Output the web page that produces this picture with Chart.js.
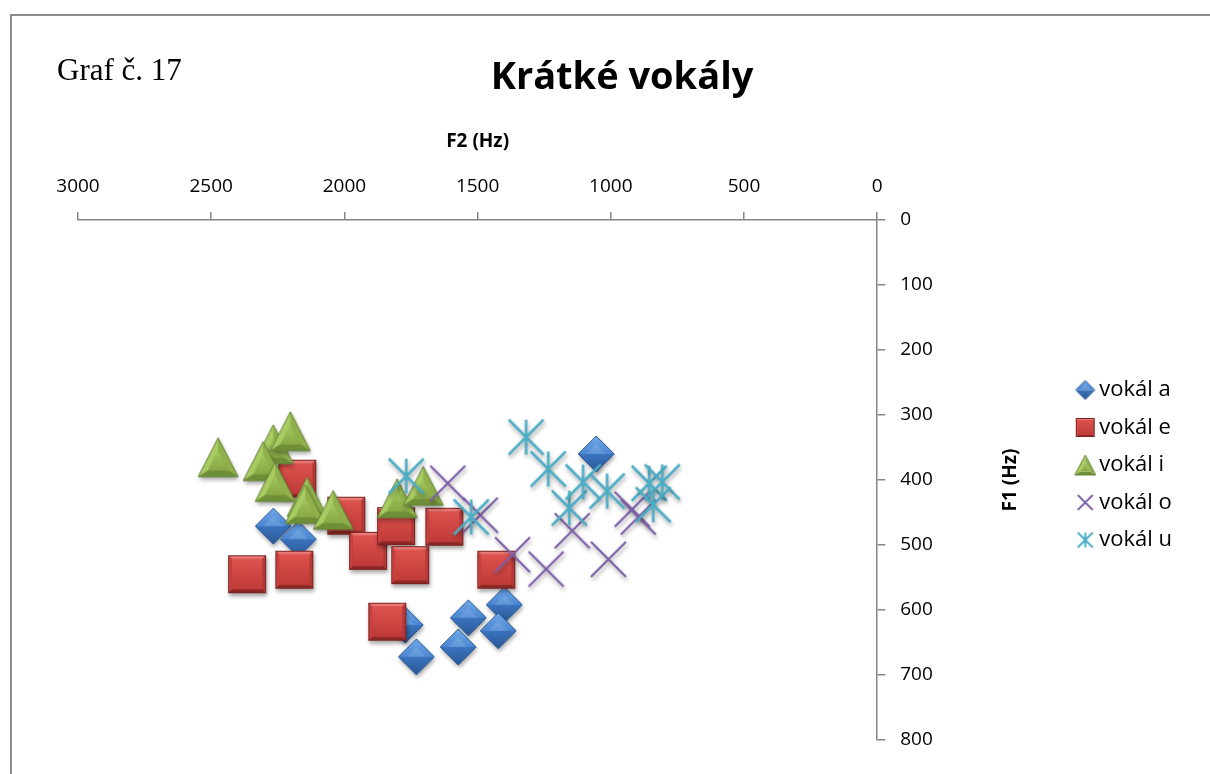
<!DOCTYPE html>
<html>
<head>
<meta charset="utf-8">
<script src="https://cdn.jsdelivr.net/npm/chart.js@4.4.1/dist/chart.umd.min.js"></script>
<style>
  body { margin: 0; background: #fff; }
  #wrap { position: relative; width: 1210px; height: 774px; overflow: hidden; }
  #frame { position: absolute; left: 10px; top: 14px; width: 1300px; height: 900px;
           border-left: 2px solid #8c8c8c; border-top: 2px solid #8c8c8c; }
  #graf { position: absolute; left: 57px; top: 52px; font: 31px "Liberation Serif"; color: #000; }
  #title { position: absolute; left: 0; width: 1244px; top: 48px; text-align: center;
           font: bold 38px "Open Sans"; color: #000; }
  canvas { position: absolute; left: 0; top: 0; }
</style>
</head>
<body>
<div id="wrap">
  <div id="frame"></div>
  <canvas id="chart" width="1210" height="774"></canvas>
  <div id="graf">Graf č. 17</div>
  <div id="title">Krátké vokály</div>
</div>
<script>
// F2 (x) and F1 (y) in Hz
const seriesNames = ['vokál a', 'vokál e', 'vokál i', 'vokál o', 'vokál u'];
const aF2 = [2267, 2173, 1772, 1730, 1535, 1573, 1400, 1423, 1055];
const aF1 = [471, 491, 623, 672, 612, 657, 592, 632, 360];
const eF2 = [2365, 2188, 2177, 1993, 1911, 1806, 1753, 1625, 1430, 1839];
const eF1 = [545, 538, 398, 455, 509, 471, 531, 472, 538, 618];
const iF2 = [2474, 2267, 2203, 2305, 2260, 2140, 2147, 2042, 1802, 1704];
const iF1 = [365, 345, 325, 371, 403, 426, 437, 446, 428, 409];
const oF2 = [1612, 1490, 1369, 1243, 1145, 1009, 920, 897];
const oF1 = [405, 454, 515, 537, 478, 522, 445, 457];
const uF2 = [1768, 1524, 1318, 1235, 1156, 1104, 1014, 856, 807, 841];
const uF1 = [394, 457, 334, 383, 443, 403, 417, 405, 403, 438];

function pts(xs, ys) {
  return xs.map((x, i) => ({x: x, y: ys[i]}));
}

// marker pictures (Excel-like bevelled markers)
function mk(w, h, draw) {
  const pad = 7;
  const c = document.createElement('canvas');
  c.width = Math.round(w + pad * 2);
  c.height = Math.round(h + pad * 2);
  const g = c.getContext('2d');
  g.translate(c.width / 2, c.height / 2);
  draw(g);
  return c;
}

function poly(g, p, fill) {
  g.beginPath();
  g.moveTo(p[0][0], p[0][1]);
  for (let i = 1; i < p.length; i++) g.lineTo(p[i][0], p[i][1]);
  g.closePath();
  g.fillStyle = fill;
  g.fill();
}

function shadowOn(g) {
  g.shadowColor = 'rgba(0,0,0,0.35)';
  g.shadowBlur = 4;
  g.shadowOffsetX = 1;
  g.shadowOffsetY = 3;
}

function diamond(r, shadow) {
  return mk(2 * r, 2 * r, g => {
    const outline = [[0, -r], [r, 0], [0, r], [-r, 0]];
    if (shadow) { g.save(); shadowOn(g); poly(g, outline, '#3B6DB0'); g.restore(); }
    let gr = g.createLinearGradient(0, -r, 0, 0);
    gr.addColorStop(0, '#72aaea'); gr.addColorStop(1, '#4a86d2');
    poly(g, [[-r, 0], [0, -r], [r, 0]], gr);
    gr = g.createLinearGradient(0, 0, 0, r);
    gr.addColorStop(0, '#3b74be'); gr.addColorStop(1, '#2a5997');
    poly(g, [[-r, 0], [0, r], [r, 0]], gr);
    const k = r * 0.55;
    poly(g, [[-k, 0], [0, -k], [k, 0]], 'rgba(255,255,255,0.12)');
    g.beginPath();
    g.moveTo(0, -r); g.lineTo(r, 0); g.lineTo(0, r); g.lineTo(-r, 0); g.closePath();
    g.strokeStyle = '#2b568f'; g.lineWidth = 1; g.stroke();
  });
}

function square(s, shadow) {
  return mk(2 * s, 2 * s, g => {
    const b = s * 0.2;
    if (shadow) { g.save(); shadowOn(g); g.fillStyle = '#a8302d'; g.fillRect(-s, -s, 2 * s, 2 * s); g.restore(); }
    poly(g, [[-s, -s], [s, -s], [s - b, -s + b], [-s + b, -s + b]], '#ec7a76');
    poly(g, [[-s, -s], [-s + b, -s + b], [-s + b, s - b], [-s, s]], '#c8433f');
    poly(g, [[s, -s], [s, s], [s - b, s - b], [s - b, -s + b]], '#b23a37');
    poly(g, [[-s, s], [-s + b, s - b], [s - b, s - b], [s, s]], '#8a2724');
    const gr = g.createLinearGradient(0, -s + b, 0, s - b);
    gr.addColorStop(0, '#dc524e'); gr.addColorStop(1, '#c03c39');
    g.fillStyle = gr;
    g.fillRect(-s + b, -s + b, 2 * (s - b), 2 * (s - b));
    g.strokeStyle = '#7a2220'; g.lineWidth = 1;
    g.strokeRect(-s + 0.5, -s + 0.5, 2 * s - 1, 2 * s - 1);
  });
}

function triangle(w, h, shadow) {
  return mk(w, h, g => {
    const A = [0, -h / 2], B = [-w / 2, h / 2], C = [w / 2, h / 2];
    if (shadow) { g.save(); shadowOn(g); poly(g, [A, B, C], '#87aa45'); g.restore(); }
    const cy = h / 6, k = 0.5;
    const a = [0, cy + (A[1] - cy) * k], bb = [B[0] * k, cy + (B[1] - cy) * k], c = [C[0] * k, cy + (C[1] - cy) * k];
    poly(g, [A, B, bb, a], '#a8cb62');
    poly(g, [A, a, c, C], '#8fb04a');
    poly(g, [B, C, c, bb], '#6e8e37');
    const gr = g.createLinearGradient(0, a[1], 0, bb[1]);
    gr.addColorStop(0, '#a3c65e'); gr.addColorStop(1, '#88a945');
    poly(g, [a, bb, c], gr);
    g.beginPath(); g.moveTo(A[0], A[1]); g.lineTo(B[0], B[1]); g.lineTo(C[0], C[1]); g.closePath();
    g.strokeStyle = '#66843a'; g.lineWidth = 1; g.stroke();
  });
}

function cross(half, lw, shadow) {
  return mk(2 * half, 2 * half, g => {
    if (shadow) shadowOn(g);
    g.strokeStyle = '#7d5ea8'; g.lineWidth = lw; g.lineCap = 'butt';
    g.beginPath();
    g.moveTo(-half, -half); g.lineTo(half, half);
    g.moveTo(half, -half); g.lineTo(-half, half);
    g.stroke();
  });
}

function asterisk(half, lw, shadow) {
  return mk(2 * half, 2 * half, g => {
    if (shadow) shadowOn(g);
    g.strokeStyle = '#4aacc5'; g.lineWidth = lw;
    g.beginPath();
    g.moveTo(0, -half); g.lineTo(0, half);
    g.moveTo(-half, -half); g.lineTo(half, half);
    g.moveTo(half, -half); g.lineTo(-half, half);
    g.stroke();
  });
}

const plotIcons = [diamond(18, true), square(19, true), triangle(40, 39, true), cross(17.5, 2.2, true), asterisk(17.5, 2.5, true)];
const legendIcons = [diamond(9.5, false), square(9.5, false), triangle(21, 20, false), cross(7.5, 1.8, false), asterisk(7.5, 2, false)];
const colors = ['#4f81bd', '#c0504d', '#9bbb59', '#8064a2', '#4bacc6'];

const allData = [pts(aF2, aF1), pts(eF2, eF1), pts(iF2, iF1), pts(oF2, oF1), pts(uF2, uF1)];

const datasets = allData.map((d, i) => ({
  label: seriesNames[i],
  data: d,
  pointStyle: plotIcons[i],
  pointRadius: 18,
  backgroundColor: colors[i],
  borderColor: colors[i],
  order: 5 - i
}));

// rotated F1 axis title, bottom-to-top like in Excel
const f1Title = {
  id: 'f1Title',
  afterDraw(chart) {
    const ctx = chart.ctx;
    const a = chart.chartArea;
    ctx.save();
    ctx.translate(a.right + 133, (a.top + a.bottom) / 2);
    ctx.rotate(-Math.PI / 2);
    ctx.font = 'bold 19px "Open Sans"';
    ctx.fillStyle = '#000';
    ctx.textAlign = 'center';
    ctx.textBaseline = 'middle';
    ctx.fillText('F1 (Hz)', 0, 0);
    ctx.restore();
  }
};

const axisGray = '#868686';
const plainNum = v => String(v);

new Chart(document.getElementById('chart'), {
  type: 'scatter',
  data: { datasets: datasets },
  plugins: [f1Title],
  options: {
    responsive: false,
    animation: false,
    events: [],
    layout: { padding: { left: 78, right: 28, top: 130.6, bottom: 34 } },
    scales: {
      x: {
        type: 'linear',
        position: 'top',
        reverse: true,
        min: 0,
        max: 3000,
        ticks: { stepSize: 500, padding: 13.6, color: '#000', callback: plainNum,
                 font: { family: 'Open Sans', size: 19 } },
        grid: { drawOnChartArea: false, tickLength: 8, color: axisGray, lineWidth: 1.5 },
        border: { color: axisGray, width: 1.5 },
        title: { display: true, text: 'F2 (Hz)', color: '#000',
                 font: { family: 'Open Sans', size: 19, weight: 'bold' },
                 padding: { top: 0, bottom: 8.6 } }
      },
      y: {
        type: 'linear',
        position: 'right',
        reverse: true,
        min: 0,
        max: 800,
        ticks: { stepSize: 100, padding: 15, color: '#000', callback: plainNum,
                 font: { family: 'Open Sans', size: 19 } },
        grid: { drawOnChartArea: false, tickLength: 8, color: axisGray, lineWidth: 1.5 },
        border: { color: axisGray, width: 1.5 },
        afterFit(scale) { scale.width = 189.5; }
      }
    },
    plugins: {
      tooltip: { enabled: false },
      legend: {
        position: 'right',
        align: 'start',
        fullSize: false,
        title: { display: true, text: '', font: { size: 10 }, padding: { top: 131.5, bottom: 0 } },
        labels: {
          usePointStyle: true,
          pointStyleWidth: 6,
          padding: 15.5,
          color: '#000',
          font: { family: 'Open Sans', size: 22 },
          generateLabels(chart) {
            const items = Chart.defaults.plugins.legend.labels.generateLabels(chart);
            items.sort((p, q) => p.datasetIndex - q.datasetIndex);
            items.forEach(it => { it.pointStyle = legendIcons[it.datasetIndex]; });
            return items;
          }
        }
      }
    }
  }
});
</script>
</body>
</html>
